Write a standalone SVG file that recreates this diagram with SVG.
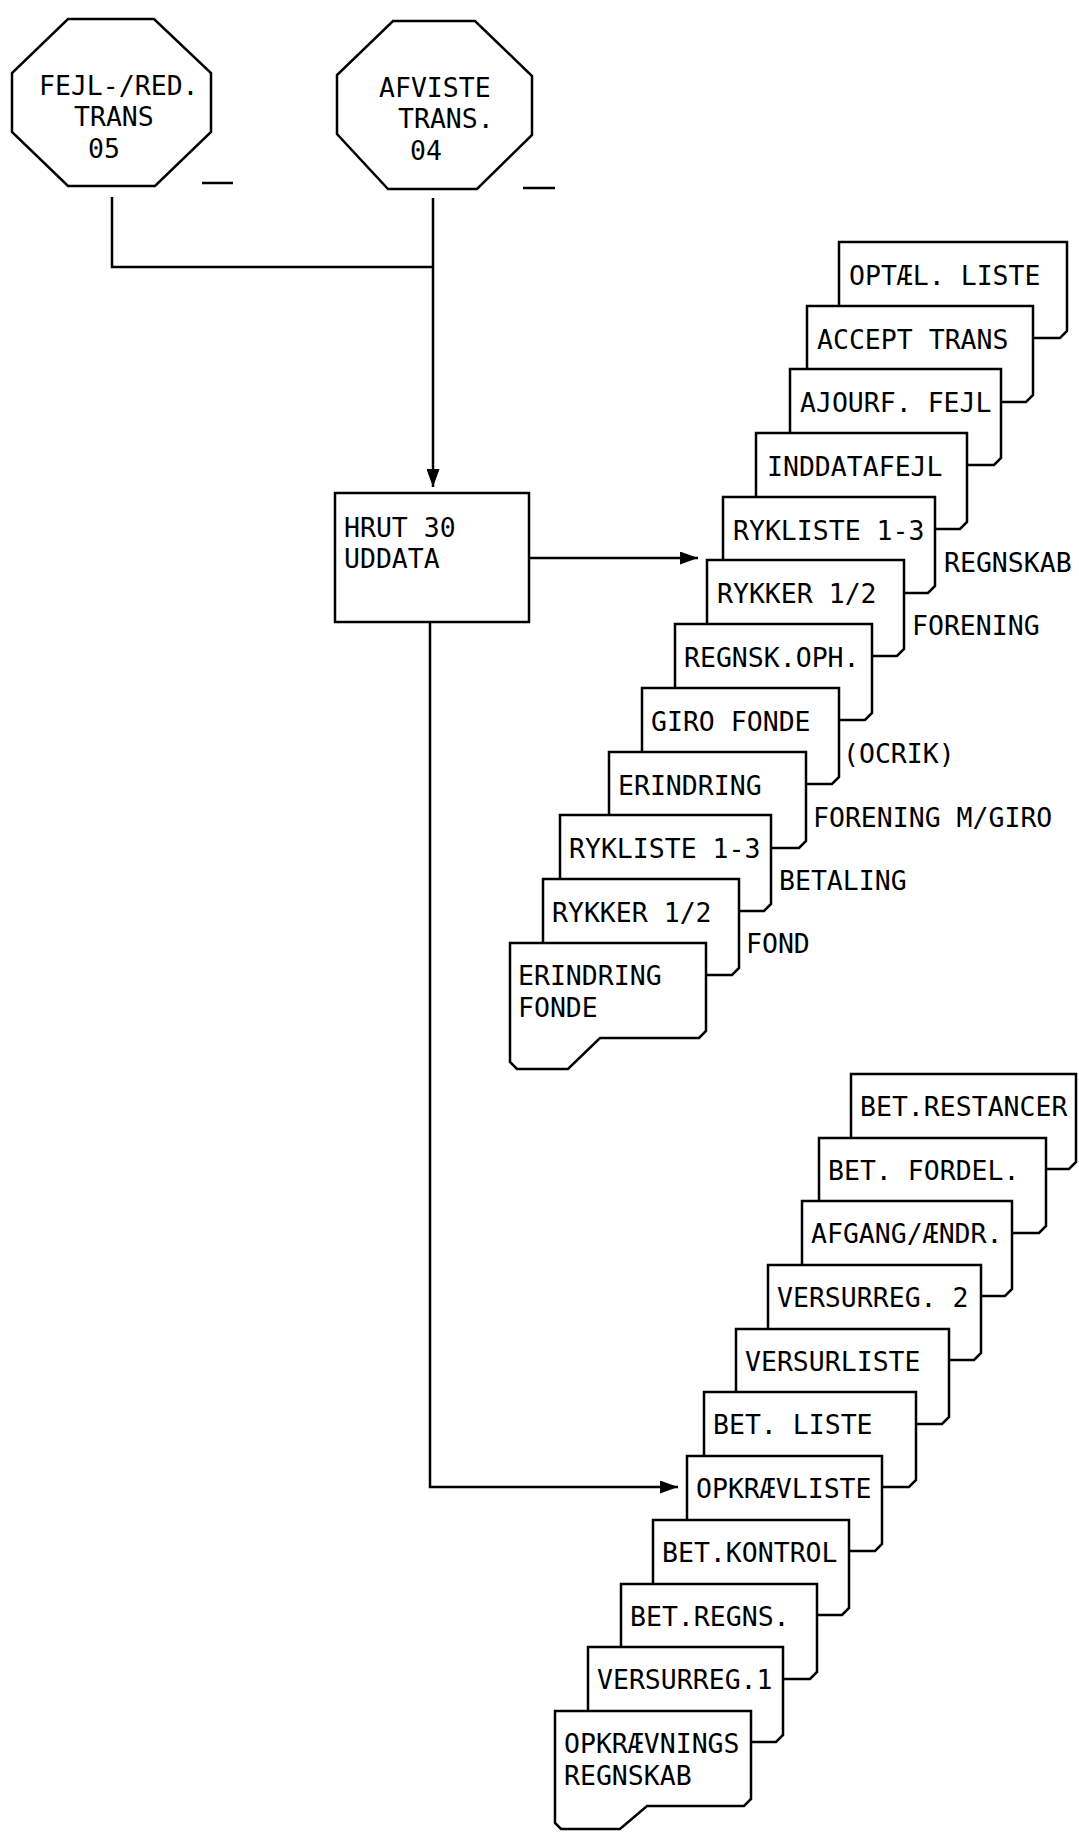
<svg xmlns="http://www.w3.org/2000/svg" width="1079" height="1832" viewBox="0 0 1079 1832">
<style>
.shape{fill:#fff;stroke:#000;stroke-width:2.5;stroke-linejoin:miter}
.line{fill:none;stroke:#000;stroke-width:2.5}
.t{font-family:"DejaVu Sans Mono","Liberation Mono",monospace;font-size:26.5px;fill:#000}
</style>
<defs>
<marker id="arr" viewBox="0 0 18 13" markerWidth="18" markerHeight="13" markerUnits="userSpaceOnUse" refX="18" refY="6.5" orient="auto">
<path d="M0,0 L18,6.5 L0,13 Z" fill="#000"/>
</marker>
</defs>
<rect width="1079" height="1832" fill="#fff"/>

<g id="connectors">
<path class="line" d="M112 197 V267 H433"/>
<path class="line" d="M433 198 V487" marker-end="url(#arr)"/>
<path class="line" d="M529 558 H698" marker-end="url(#arr)"/>
<path class="line" d="M430 622 V1487 H678" marker-end="url(#arr)"/>
</g>

<g id="marks">
<line class="line" x1="202" y1="183" x2="233" y2="183"/>
<line class="line" x1="523" y1="188" x2="555" y2="188"/>
</g>

<g id="fejl-red-trans-05">
<polygon class="shape" points="68,19 154,19 211,73 211,132 155,186 68,186 12,132 12,73"/>
<text class="t" x="39" y="95">FEJL-/RED.</text>
<text class="t" x="74" y="126">TRANS</text>
<text class="t" x="88" y="158">05</text>
</g>

<g id="afviste-trans-04">
<polygon class="shape" points="393,21 475,21 532,76 532,135 477,189 388,189 337,134 337,75"/>
<text class="t" x="379" y="97">AFVISTE</text>
<text class="t" x="398" y="128">TRANS.</text>
<text class="t" x="410" y="160">04</text>
</g>

<g id="hrut30">
<rect class="shape" x="335" y="493" width="194" height="129"/>
<text class="t" x="344" y="537">HRUT 30</text>
<text class="t" x="344" y="568">UDDATA</text>
</g>

<g id="stack1">
<g id="optael-liste"><path class="shape" d="M839 242 H1067 V331 L1060 338 H839 Z"/><text class="t" x="849" y="285">OPTÆL. LISTE</text></g>
<g id="accept-trans"><path class="shape" d="M807 306 H1033 V395 L1026 402 H807 Z"/><text class="t" x="817" y="349">ACCEPT TRANS</text></g>
<g id="ajourf-fejl"><path class="shape" d="M790 369 H1001 V458 L994 465 H790 Z"/><text class="t" x="800" y="412">AJOURF. FEJL</text></g>
<g id="inddatafejl"><path class="shape" d="M756 433 H967 V522 L960 529 H756 Z"/><text class="t" x="767" y="476">INDDATAFEJL</text></g>
<g id="rykliste-regnskab"><path class="shape" d="M723 497 H935 V586 L928 593 H723 Z"/><text class="t" x="733" y="540">RYKLISTE 1-3</text></g>
<g id="rykker-regnskab"><path class="shape" d="M707 560 H904 V649 L897 656 H707 Z"/><text class="t" x="717" y="603">RYKKER 1/2</text></g>
<g id="regnsk-oph"><path class="shape" d="M675 624 H872 V713 L865 720 H675 Z"/><text class="t" x="684" y="667">REGNSK.OPH.</text></g>
<g id="giro-fonde"><path class="shape" d="M642 688 H839 V777 L832 784 H642 Z"/><text class="t" x="651" y="731">GIRO FONDE</text></g>
<g id="erindring-forening"><path class="shape" d="M609 752 H806 V841 L799 848 H609 Z"/><text class="t" x="618" y="795">ERINDRING</text></g>
<g id="rykliste-betaling"><path class="shape" d="M560 815 H771 V904 L764 911 H560 Z"/><text class="t" x="569" y="858">RYKLISTE 1-3</text></g>
<g id="rykker-fond"><path class="shape" d="M543 879 H739 V968 L732 975 H543 Z"/><text class="t" x="552" y="922">RYKKER 1/2</text></g>
<g id="erindring-fonde"><path class="shape" d="M510 943 H706 V1031 L699 1038 H600 L568 1069 H517 L510 1062 Z"/><text class="t" x="518" y="985">ERINDRING</text><text class="t" x="518" y="1017">FONDE</text></g>
</g>

<g id="stack1-labels">
<text class="t" x="944" y="572">REGNSKAB</text>
<text class="t" x="912" y="635">FORENING</text>
<text class="t" x="843" y="763">(OCRIK)</text>
<text class="t" x="813" y="827">FORENING M/GIRO</text>
<text class="t" x="779" y="890">BETALING</text>
<text class="t" x="746" y="953">FOND</text>
</g>

<g id="stack2">
<g id="bet-restancer"><path class="shape" d="M851 1074 H1076 V1162 L1069 1169 H851 Z"/><text class="t" x="860" y="1116">BET.RESTANCER</text></g>
<g id="bet-fordel"><path class="shape" d="M819 1138 H1046 V1226 L1039 1233 H819 Z"/><text class="t" x="828" y="1180">BET. FORDEL.</text></g>
<g id="afgang-aendr"><path class="shape" d="M802 1201 H1012 V1289 L1005 1296 H802 Z"/><text class="t" x="811" y="1243">AFGANG/ÆNDR.</text></g>
<g id="versurreg-2"><path class="shape" d="M768 1265 H981 V1353 L974 1360 H768 Z"/><text class="t" x="777" y="1307">VERSURREG. 2</text></g>
<g id="versurliste"><path class="shape" d="M736 1329 H949 V1417 L942 1424 H736 Z"/><text class="t" x="745" y="1371">VERSURLISTE</text></g>
<g id="bet-liste"><path class="shape" d="M704 1392 H916 V1480 L909 1487 H704 Z"/><text class="t" x="713" y="1434">BET. LISTE</text></g>
<g id="opkraevliste"><path class="shape" d="M687 1456 H882 V1544 L875 1551 H687 Z"/><text class="t" x="696" y="1498">OPKRÆVLISTE</text></g>
<g id="bet-kontrol"><path class="shape" d="M653 1520 H849 V1608 L842 1615 H653 Z"/><text class="t" x="662" y="1562">BET.KONTROL</text></g>
<g id="bet-regns"><path class="shape" d="M621 1584 H817 V1672 L810 1679 H621 Z"/><text class="t" x="630" y="1626">BET.REGNS.</text></g>
<g id="versurreg-1"><path class="shape" d="M588 1647 H783 V1735 L776 1742 H588 Z"/><text class="t" x="597" y="1689">VERSURREG.1</text></g>
<g id="opkraevnings-regnskab"><path class="shape" d="M555 1711 H751 V1799 L744 1806 H647 L620 1829 H561 L555 1823 Z"/><text class="t" x="564" y="1753">OPKRÆVNINGS</text><text class="t" x="564" y="1785">REGNSKAB</text></g>
</g>
</svg>
